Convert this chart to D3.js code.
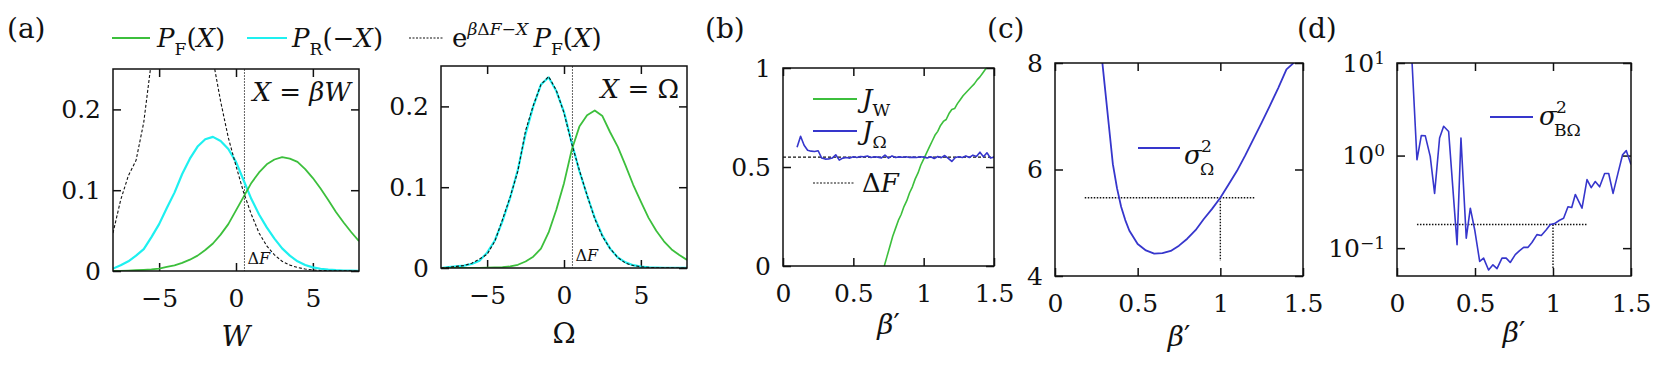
<!DOCTYPE html>
<html>
<head>
<meta charset="utf-8">
<script src="https://cdnjs.cloudflare.com/ajax/libs/d3/7.8.5/d3.min.js"></script>
<style>
  body { margin: 0; background: #fff; }
  .tick line { stroke: #111; stroke-width: 1.5; }
</style>
</head>
<body>
<svg id="fig" width="1660" height="366"></svg>
<script>
// ---- data ----
var deltaF = 0.55;

// panel (a), grid in X (W or Omega)
var xGrid = [-8, -7.5, -7, -6.5, -6, -5.5, -5, -4.5, -4, -3.5, -3, -2.5, -2, -1.5, -1, -0.5, 0,
             0.5, 1, 1.5, 2, 2.5, 3, 3.5, 4, 4.5, 5, 5.5, 6, 6.5, 7, 7.5, 8];

// X = beta W
var pfW = [0, 0, 0.0005, 0.001, 0.0015, 0.002, 0.003, 0.005, 0.007, 0.010, 0.014, 0.019, 0.026, 0.034, 0.045, 0.058, 0.075,
           0.092, 0.109, 0.122, 0.132, 0.138, 0.141, 0.139, 0.135, 0.126, 0.115, 0.102, 0.088, 0.073, 0.060, 0.048, 0.037];
var prW = [0.003, 0.007, 0.012, 0.019, 0.027, 0.042, 0.058, 0.078, 0.097, 0.120, 0.139, 0.154, 0.163, 0.166, 0.161, 0.151, 0.135,
           0.112, 0.089, 0.070, 0.054, 0.040, 0.028, 0.019, 0.012, 0.0075, 0.0045, 0.0028, 0.0017, 0.001, 0.0006, 0.0004, 0.0002];
var rwW = [0.047, 0.088, 0.118, 0.137, 0.184, 0.26, 0.45, 0.55, 0.6, 0.58, 0.52, 0.44, 0.35, 0.262, 0.21, 0.165, 0.13,
           0.097, 0.070, 0.047, 0.031, 0.020, 0.012, 0.0073, 0.0043, 0.0024, 0.0013, 0.0007, 0.0004, 0.0002, 0.0001, 0.0001, 0];

// X = Omega
var pfO = [0, 0, 0, 0, 0, 0, 0.0003, 0.0006, 0.001, 0.002, 0.004, 0.008, 0.014, 0.024, 0.044, 0.072, 0.105,
           0.146, 0.175, 0.189, 0.195, 0.188, 0.168, 0.150, 0.127, 0.103, 0.082, 0.062, 0.046, 0.033, 0.023, 0.016, 0.010];
var prO = [0, 0.001, 0.002, 0.003, 0.005, 0.009, 0.019, 0.034, 0.058, 0.087, 0.122, 0.166, 0.200, 0.227, 0.236, 0.219, 0.193,
           0.155, 0.120, 0.090, 0.062, 0.040, 0.024, 0.013, 0.007, 0.0035, 0.0018, 0.0009, 0.0005, 0.0003, 0.0002, 0.0001, 0.0001];
var rwO = [0, 0.001, 0.002, 0.003, 0.006, 0.011, 0.017, 0.033, 0.060, 0.088, 0.120, 0.170, 0.201, 0.227, 0.237, 0.220, 0.192,
           0.154, 0.121, 0.090, 0.061, 0.039, 0.024, 0.013, 0.006, 0.003, 0.0015, 0.0008, 0.0004, 0.0002, 0.0001, 0, 0];

// panel (b)
var jwBeta = [0.72, 0.74, 0.76, 0.78, 0.80, 0.82, 0.84, 0.86, 0.88, 0.90, 0.92, 0.94, 0.96, 0.98, 1.00, 1.02, 1.04, 1.06, 1.08,
              1.10, 1.12, 1.14, 1.16, 1.18, 1.20, 1.22, 1.24, 1.26, 1.28, 1.30, 1.32, 1.34, 1.36, 1.38, 1.40, 1.42, 1.44, 1.46];
var jwVal = [0.00, 0.05, 0.10, 0.15, 0.19, 0.23, 0.26, 0.30, 0.33, 0.37, 0.40, 0.44, 0.47, 0.51, 0.54, 0.57, 0.60, 0.63, 0.66,
             0.68, 0.71, 0.73, 0.74, 0.77, 0.79, 0.795, 0.82, 0.84, 0.86, 0.875, 0.89, 0.905, 0.92, 0.94, 0.955, 0.975, 0.995, 1.02];
var joBeta = [0.100, 0.125, 0.150, 0.175, 0.200, 0.225, 0.250, 0.275, 0.300, 0.325, 0.350, 0.375, 0.400, 0.425, 0.450,
              0.475, 0.500, 0.525, 0.550, 0.575, 0.600, 0.625, 0.650, 0.675, 0.700, 0.725, 0.750, 0.775, 0.800, 0.825,
              0.850, 0.875, 0.900, 0.925, 0.950, 0.975, 1.000, 1.025, 1.050, 1.075, 1.100, 1.125, 1.150, 1.175, 1.200,
              1.225, 1.250, 1.275, 1.300, 1.325, 1.350, 1.375, 1.400, 1.425, 1.450, 1.475, 1.500];
var joVal = [0.600, 0.655, 0.610, 0.585, 0.580, 0.578, 0.582, 0.545, 0.540, 0.541, 0.545, 0.562, 0.535, 0.545, 0.548,
             0.545, 0.552, 0.548, 0.553, 0.552, 0.555, 0.548, 0.552, 0.550, 0.546, 0.560, 0.545, 0.556, 0.548, 0.551,
             0.549, 0.552, 0.548, 0.550, 0.548, 0.552, 0.550, 0.546, 0.552, 0.543, 0.553, 0.547, 0.558, 0.544, 0.528,
             0.548, 0.552, 0.548, 0.556, 0.548, 0.560, 0.553, 0.575, 0.552, 0.572, 0.545, 0.550];

// panel (c)
var cBeta = [0.28, 0.30, 0.325, 0.35, 0.375, 0.40, 0.425, 0.45, 0.50, 0.55, 0.60, 0.65, 0.70, 0.75, 0.80, 0.85,
             0.90, 0.95, 1.00, 1.05, 1.10, 1.15, 1.20, 1.25, 1.30, 1.35, 1.40, 1.45];
var cSigma = [8.2, 7.6, 6.85, 6.1, 5.65, 5.3, 5.05, 4.85, 4.6, 4.48, 4.42, 4.43, 4.47, 4.57, 4.70, 4.86,
              5.07, 5.26, 5.47, 5.72, 5.97, 6.26, 6.57, 6.88, 7.2, 7.53, 7.88, 8.02];
var cRef = {beta: 1, value: 5.47, from: 0.18, to: 1.205, low: 4.28};

// panel (d)
var dBeta = [0.096, 0.128, 0.156, 0.181, 0.213, 0.241, 0.273, 0.299, 0.331, 0.385, 0.41, 0.444, 0.47, 0.498, 0.53,
             0.555, 0.587, 0.615, 0.641, 0.673, 0.70, 0.726, 0.758, 0.786, 0.812, 0.84, 0.865, 0.897, 0.925, 0.957,
             0.983, 1.01, 1.042, 1.068, 1.096, 1.12, 1.143, 1.186, 1.218, 1.245, 1.271, 1.299, 1.331, 1.357, 1.385,
             1.417, 1.446, 1.47, 1.5];
var dSigma = [10.5, 0.90, 1.65, 1.64, 0.98, 0.39, 1.55, 2.07, 1.82, 0.109, 1.55, 0.128, 0.27, 0.158, 0.072,
              0.078, 0.058, 0.066, 0.060, 0.078, 0.078, 0.070, 0.085, 0.094, 0.102, 0.102, 0.115, 0.14, 0.137, 0.158,
              0.18, 0.184, 0.2, 0.21, 0.28, 0.275, 0.38, 0.27, 0.55, 0.45, 0.525, 0.46, 0.64, 0.64, 0.39,
              0.65, 1.02, 1.13, 0.8];
var dRef = {beta: 1, value: 0.18, from: 0.128, to: 1.218, low: 0.061};

var green = "#3cbf3c", cyan = "#1ef0f0", blue = "#3636cc";
var serif = "'DejaVu Serif', serif";

var svg = d3.select("#fig");

// text with italic / sub / sup pieces
function rich(sel, x, y, parts, fs, anchor) {
    var t = sel.append("text").attr("x", x).attr("y", y)
        .attr("text-anchor", anchor || "start")
        .attr("font-family", serif)
        .attr("fill", "#111")
        .style("font-size", fs + "px");
    var off = 0;
    parts.forEach(function (p) {
        var target = p.s === "sub" ? fs * (p.lift || 0.3) : (p.s === "sup" ? -fs * 0.45 : 0);
        var span = t.append("tspan")
            .attr("dy", target - off)
            .style("font-style", p.i ? "italic" : "normal")
            .style("font-size", (p.s ? fs * 0.66 : fs) + "px")
            .text(p.t);
        if (p.x !== undefined) span.attr("x", p.x);
        off = target;
    });
    return t;
}

function signed(d) {
    return d < 0 ? "\u2212" + (-d) : String(d);
}

// one framed panel with inward ticks on all sides
var clipId = 0;
function panel(o) {
    var g = svg.append("g").attr("transform", "translate(" + o.left + "," + o.top + ")");
    var x = d3.scaleLinear().domain(o.xDomain).range([0, o.width]);
    var y = (o.yLog ? d3.scaleLog() : d3.scaleLinear()).domain(o.yDomain).range([o.height, 0]);

    g.append("g").attr("transform", "translate(0," + o.height + ")")
        .call(d3.axisBottom(x).tickValues(o.xTicks).tickSize(-8).tickPadding(18).tickFormat(signed));
    var yAxis = g.append("g")
        .call(d3.axisLeft(y).tickValues(o.yTicks).tickSize(-8).tickPadding(12).tickFormat(o.yLog ? function () { return ""; } : signed));
    g.append("g")
        .call(d3.axisTop(x).tickValues(o.xTicks).tickSize(-8).tickFormat(""));
    g.append("g").attr("transform", "translate(" + o.width + ",0)")
        .call(d3.axisRight(y).tickValues(o.yTicks).tickSize(-8).tickFormat(""));
    g.selectAll(".domain").remove();
    g.selectAll(".tick text")
        .attr("font-family", serif).attr("fill", "#111").style("font-size", "25px");

    if (o.yLog) {
        yAxis.selectAll(".tick text").each(function (d) {
            var t = d3.select(this);
            t.append("tspan").text("10");
            t.append("tspan").attr("dy", "-0.45em").style("font-size", "17px")
                .text(signed(Math.round(Math.log10(d))));
        });
    }

    clipId += 1;
    g.append("clipPath").attr("id", "clip" + clipId)
        .append("rect").attr("width", o.width).attr("height", o.height);
    var plot = g.append("g").attr("clip-path", "url(#clip" + clipId + ")");

    g.append("rect").attr("width", o.width).attr("height", o.height)
        .attr("fill", "none").attr("stroke", "#111").attr("stroke-width", 1.5);

    return {g: g, plot: plot, x: x, y: y, w: o.width, h: o.height};
}

function drawLine(p, xs, ys, color, width, dash) {
    var line = d3.line()
        .x(function (d, i) { return p.x(xs[i]); })
        .y(function (d) { return p.y(d); });
    p.plot.append("path").datum(ys)
        .attr("d", line)
        .attr("fill", "none")
        .attr("stroke", color)
        .attr("stroke-width", width)
        .attr("stroke-linejoin", "round")
        .attr("stroke-dasharray", dash || null);
}

// ---- panel (a) ----
function distPanel(left, top, pf, pr, rw, title, axisLabel, axisItalic) {
    var p = panel({left: left, top: top, width: 246, height: 202, xDomain: [-8, 8], yDomain: [0, 0.25],
        xTicks: [-5, 0, 5], yTicks: [0, 0.1, 0.2]});
    p.plot.append("line")
        .attr("x1", p.x(deltaF)).attr("x2", p.x(deltaF)).attr("y1", 0).attr("y2", p.h)
        .attr("stroke", "#666").attr("stroke-width", 1).attr("stroke-dasharray", "2,1");
    drawLine(p, xGrid, pr, cyan, 2.2);
    drawLine(p, xGrid, pf, green, 1.8);
    drawLine(p, xGrid, rw, "#111", 1.1, "3,2");
    rich(p.g, p.x(deltaF) + 3, p.h - 7, [{t: "\u0394"}, {t: "F", i: true}], 16);
    rich(p.g, p.w - 8, 32, title, 26, "end");
    rich(p.g, p.w / 2, p.h + 75, [{t: axisLabel, i: axisItalic}], 28, "middle");
    return p;
}

distPanel(113, 69, pfW, prW, rwW,
    [{t: "X", i: true}, {t: " = "}, {t: "\u03b2", i: true}, {t: "W", i: true}], "W", true);
distPanel(441, 66, pfO, prO, rwO,
    [{t: "X", i: true}, {t: " = \u03a9"}], "\u03a9", false);

// top legend
var legend = svg.append("g");
legend.append("line").attr("x1", 112).attr("x2", 150).attr("y1", 38).attr("y2", 38)
    .attr("stroke", green).attr("stroke-width", 2);
rich(legend, 157, 47, [{t: "P", i: true}, {t: "F", s: "sub"}, {t: "("}, {t: "X", i: true}, {t: ")"}], 26);
legend.append("line").attr("x1", 247).attr("x2", 287).attr("y1", 38).attr("y2", 38)
    .attr("stroke", cyan).attr("stroke-width", 2.2);
rich(legend, 292, 47, [{t: "P", i: true}, {t: "R", s: "sub"}, {t: "(\u2212"}, {t: "X", i: true}, {t: ")"}], 26);
legend.append("line").attr("x1", 409).attr("x2", 443).attr("y1", 38).attr("y2", 38)
    .attr("stroke", "#111").attr("stroke-width", 1.1).attr("stroke-dasharray", "2,1.5");
rich(legend, 452, 47, [{t: "e"}, {t: "\u03b2", i: true, s: "sup"}, {t: "\u0394", s: "sup"}, {t: "F", i: true, s: "sup"},
    {t: "\u2212", s: "sup"}, {t: "X", i: true, s: "sup"}, {t: "\u2009P", i: true}, {t: "F", s: "sub"},
    {t: "("}, {t: "X", i: true}, {t: ")"}], 26);

// ---- panel (b) ----
var pb = panel({left: 783, top: 68, width: 211, height: 198, xDomain: [0, 1.5], yDomain: [0, 1],
    xTicks: [0, 0.5, 1, 1.5], yTicks: [0, 0.5, 1]});
pb.plot.append("line").attr("x1", 0).attr("x2", pb.w).attr("y1", pb.y(deltaF)).attr("y2", pb.y(deltaF))
    .attr("stroke", "#111").attr("stroke-width", 1.1).attr("stroke-dasharray", "3,2");
drawLine(pb, jwBeta, jwVal, green, 1.6);
drawLine(pb, joBeta, joVal, blue, 1.6);
var lb = pb.g.append("g");
lb.append("line").attr("x1", 30).attr("x2", 74).attr("y1", 31).attr("y2", 31).attr("stroke", green).attr("stroke-width", 2);
rich(lb, 79, 40, [{t: "J", i: true}, {t: "W", s: "sub"}], 26);
lb.append("line").attr("x1", 30).attr("x2", 74).attr("y1", 63).attr("y2", 63).attr("stroke", blue).attr("stroke-width", 2);
rich(lb, 79, 72, [{t: "J", i: true}, {t: "\u03a9", s: "sub"}], 26);
lb.append("line").attr("x1", 30).attr("x2", 72).attr("y1", 115).attr("y2", 115)
    .attr("stroke", "#111").attr("stroke-width", 1.1).attr("stroke-dasharray", "2,1.5");
rich(lb, 79, 124, [{t: "\u0394"}, {t: "F", i: true}], 26);
rich(pb.g, pb.w / 2, pb.h + 68, [{t: "\u03b2", i: true}, {t: "\u2032"}], 28, "middle");

// ---- panel (c) ----
var pc = panel({left: 1055, top: 63, width: 248, height: 213, xDomain: [0, 1.5], yDomain: [4, 8],
    xTicks: [0, 0.5, 1, 1.5], yTicks: [4, 6, 8]});
pc.plot.append("path")
    .attr("d", "M" + pc.x(cRef.from) + "," + pc.y(cRef.value) + "H" + pc.x(cRef.to) +
        "M" + pc.x(cRef.beta) + "," + pc.y(cRef.value) + "V" + pc.y(cRef.low))
    .attr("fill", "none").attr("stroke", "#111").attr("stroke-width", 1.4).attr("stroke-dasharray", "1.5,1.5");
drawLine(pc, cBeta, cSigma, blue, 1.8);
pc.g.append("line").attr("x1", 83).attr("x2", 125).attr("y1", 85).attr("y2", 85).attr("stroke", blue).attr("stroke-width", 2);
rich(pc.g, 129, 101, [{t: "\u03c3", i: true}, {t: "2", s: "sup", x: 146},
    {t: "\u03a9", s: "sub", x: 145, lift: 0.42}], 26);
rich(pc.g, pc.w / 2, pc.h + 70, [{t: "\u03b2", i: true}, {t: "\u2032"}], 28, "middle");

// ---- panel (d) ----
var pd = panel({left: 1397, top: 63, width: 234, height: 213, xDomain: [0, 1.5], yDomain: [0.05, 10], yLog: true,
    xTicks: [0, 0.5, 1, 1.5], yTicks: [0.1, 1, 10]});
pd.plot.append("path")
    .attr("d", "M" + pd.x(dRef.from) + "," + pd.y(dRef.value) + "H" + pd.x(dRef.to) +
        "M" + pd.x(dRef.beta) + "," + pd.y(dRef.value) + "V" + pd.y(dRef.low))
    .attr("fill", "none").attr("stroke", "#111").attr("stroke-width", 1.4).attr("stroke-dasharray", "1.5,1.5");
drawLine(pd, dBeta, dSigma, blue, 1.6);
pd.g.append("line").attr("x1", 93).attr("x2", 136).attr("y1", 54).attr("y2", 54).attr("stroke", blue).attr("stroke-width", 2);
rich(pd.g, 142, 62, [{t: "\u03c3", i: true}, {t: "2", s: "sup", x: 159},
    {t: "B\u03a9", s: "sub", x: 157, lift: 0.42}], 26);
rich(pd.g, pd.w / 2, pd.h + 66, [{t: "\u03b2", i: true}, {t: "\u2032"}], 28, "middle");

// panel tags
[["(a)", 7], ["(b)", 705], ["(c)", 987], ["(d)", 1297]].forEach(function (p) {
    svg.append("text").attr("x", p[1]).attr("y", 38).attr("font-family", serif)
        .attr("fill", "#111").style("font-size", "28px").text(p[0]);
});
</script>
</body>
</html>
